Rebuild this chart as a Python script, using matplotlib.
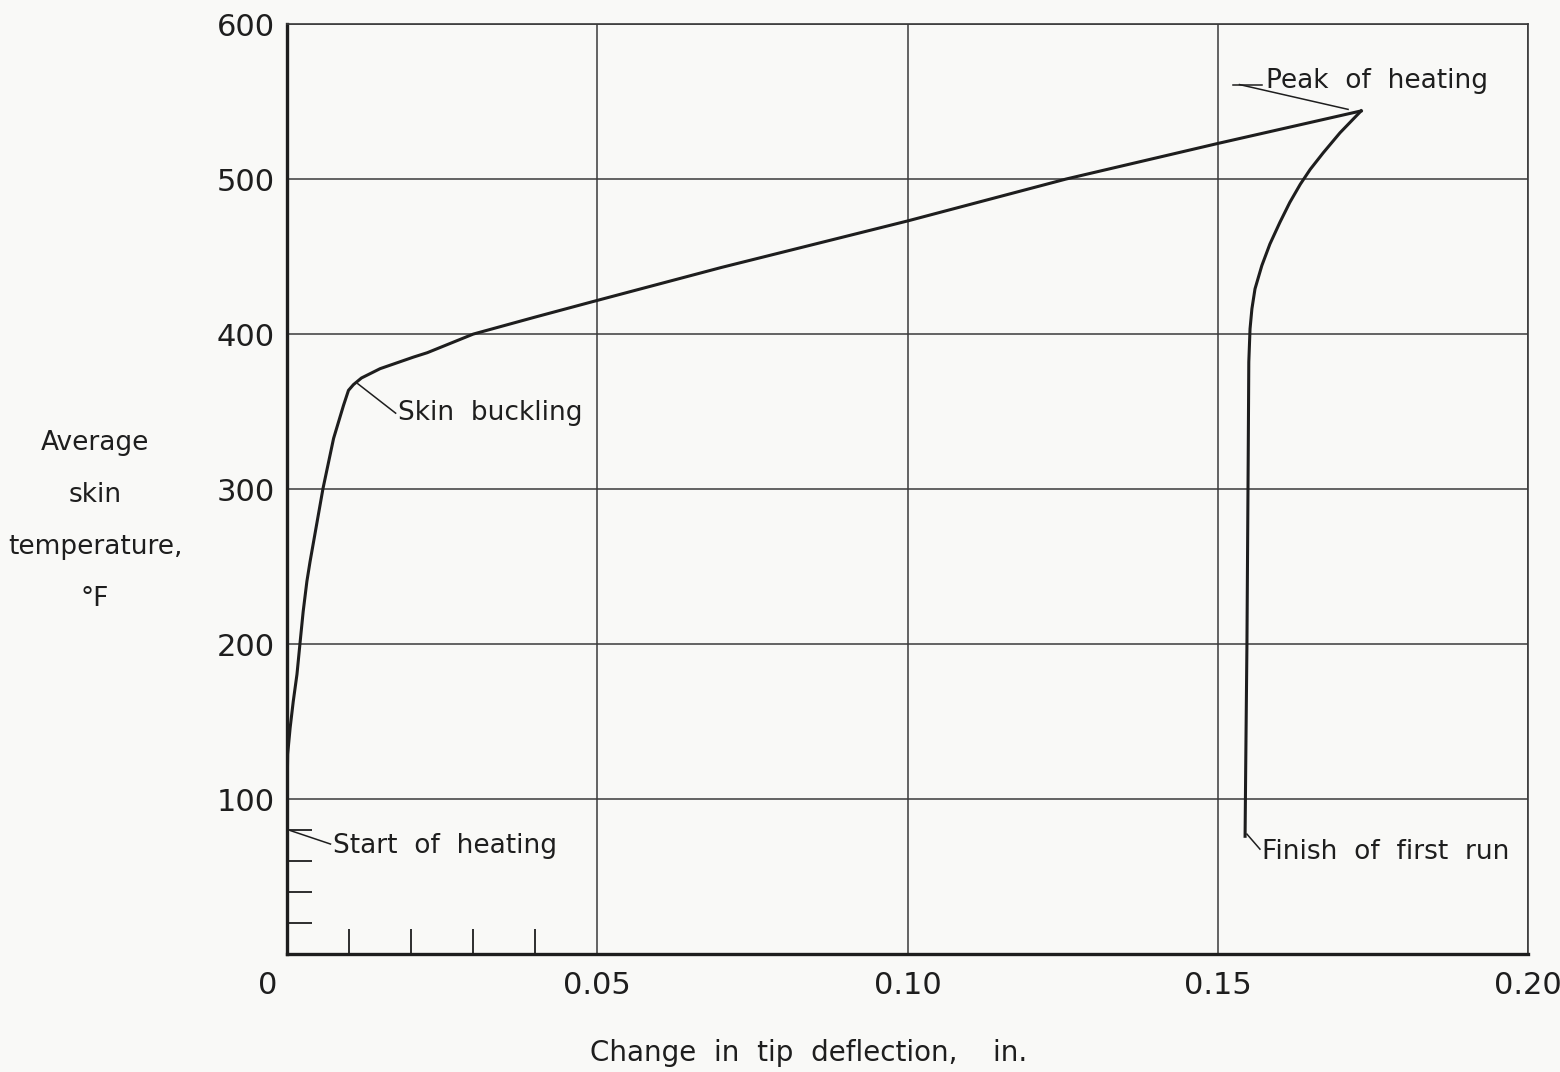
import numpy as np
import matplotlib
matplotlib.use('Agg')
import matplotlib.pyplot as plt

# heating run: deflection (in.) vs average skin temperature (F)
heat_x = [0.0000, 0.0000, 0.0001, 0.0005, 0.0010, 0.0016, 0.0021, 0.0026, 0.0032,
          0.0037, 0.0058, 0.0075, 0.0091, 0.0099, 0.0107, 0.0120, 0.0150,
          0.0204, 0.0226, 0.0300, 0.0400, 0.0493, 0.0700, 0.1000, 0.1255,
          0.1500, 0.1731]
heat_y = [80, 103, 129, 146, 163, 180.5, 201, 221, 240.5,
          253, 300.5, 332.7, 354, 363.7, 367.4, 371.7, 377.7,
          385.2, 388, 400, 411, 421, 443, 473, 500,
          523, 544]

# cooling back down after the peak
cool_x = [0.1731, 0.1697, 0.1670, 0.1649, 0.1633, 0.1616, 0.1600, 0.1584, 0.1571,
          0.1560, 0.1555, 0.1552, 0.1550, 0.1549, 0.1547, 0.1545, 0.1544]
cool_y = [544, 529.9, 517, 506.3, 496.7, 484.9, 472, 458.1, 444.2,
          429.2, 416.3, 403.4, 382, 317.7, 200, 120, 76]

xticks = [0, 0.05, 0.10, 0.15, 0.20]
xtick_labels = ['', '0.05', '0.10', '0.15', '0.20']
yticks = [100, 200, 300, 400, 500, 600]
ytick_labels = ['100', '200', '300', '400', '500', '600']

plt.rcParams['font.family'] = ['DejaVu Sans']
ink = '#1e1e1e'
paper = '#f9f9f7'

fig = plt.figure(figsize=(15.6, 10.72), dpi=100, facecolor=paper)
ax = fig.add_axes([0.184, 0.110, 0.7955, 0.8675])
ax.set_facecolor(paper)

ax.plot(heat_x, heat_y, color=ink, lw=2.2, solid_joinstyle='round')
ax.plot(cool_x, cool_y, color=ink, lw=2.2, solid_joinstyle='round')

ax.set_xlim(0, 0.20)
ax.set_ylim(0, 600)
ax.set_xticks(xticks)
ax.set_xticklabels(xtick_labels)
ax.set_yticks(yticks)
ax.set_yticklabels(ytick_labels)
ax.set_xticks([0.01, 0.02, 0.03, 0.04], minor=True)
ax.set_yticks([20, 40, 60, 80], minor=True)
ax.tick_params(which='major', length=0, labelsize=22, colors=ink)
ax.tick_params(axis='x', which='major', pad=12)
ax.tick_params(axis='y', which='major', pad=9)
ax.tick_params(which='minor', direction='in', length=18, width=1.3, color=ink)
ax.grid(True, which='major', color='#3a3a3a', lw=1.1)

# the zero label sits a little left of the axis corner
ax.annotate('0', xy=(0, 0), xycoords=('data', 'axes fraction'), xytext=(-14, -12),
            textcoords='offset points', ha='center', va='top', fontsize=22, color=ink)

for s in ['left', 'bottom']:
    ax.spines[s].set_linewidth(2.4)
    ax.spines[s].set_color(ink)
for s in ['top', 'right']:
    ax.spines[s].set_linewidth(1.2)
    ax.spines[s].set_color('#3a3a3a')

fs = 19
# annotations
ax.plot([0.0006, 0.0070], [79.6, 71], color=ink, lw=1.1)
ax.text(0.0074, 70, 'Start  of  heating', fontsize=fs, color=ink, va='center', ha='left')

ax.plot([0.0114, 0.0175], [368, 349], color=ink, lw=1.1)
ax.text(0.0179, 349, 'Skin  buckling', fontsize=fs, color=ink, va='center', ha='left')

ax.plot([0.1710, 0.1535], [545, 561], color=ink, lw=1.1)
ax.plot([0.1525, 0.1571], [561, 561], color=ink, lw=1.1)
ax.text(0.1578, 563, 'Peak  of  heating', fontsize=fs, color=ink, va='center', ha='left')

ax.plot([0.1547, 0.1568], [77.4, 67.7], color=ink, lw=1.1)
ax.text(0.1572, 66, 'Finish  of  first  run', fontsize=fs, color=ink, va='center', ha='left')

fig.text(0.5186, 0.0177, 'Change  in  tip  deflection,    in.', fontsize=20, color=ink,
         ha='center', va='center')
fig.text(0.061, 0.514, 'Average\nskin\ntemperature,\n°F', fontsize=fs, color=ink,
         ha='center', va='center', linespacing=2.3)

fig.savefig('out.png', dpi=100, facecolor=paper)
